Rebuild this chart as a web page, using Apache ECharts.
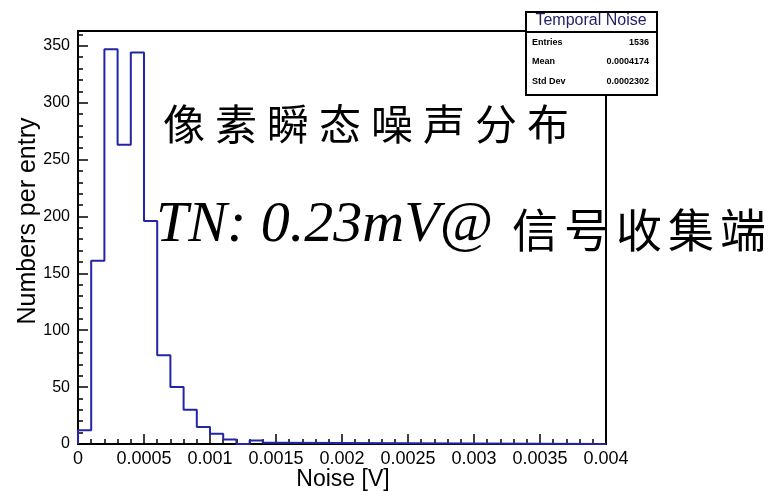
<!DOCTYPE html>
<html lang="en">

<head>
  <meta charset="UTF-8">
  <title>Temporal Noise</title>
  <script src="https://cdn.jsdelivr.net/npm/echarts@6/dist/echarts.min.js"></script>
  <style>
    body { margin: 0; background: #fff; }
  </style>
</head>

<body>
  <div id="noiseHist" style="width:770px;height:491px;"></div>
</body>

</html>
<script type="text/javascript">
  // histogram bins (left edge, V) and counts
  const binLow = [0, 0.0001, 0.0002, 0.0003, 0.0004, 0.0005, 0.0006, 0.0007,
    0.0008, 0.0009, 0.001, 0.0011, 0.0012, 0.0013, 0.0014];
  const counts = [12, 161, 347, 263, 344, 196, 78, 50, 30, 15, 9, 4, 0, 3, 1];
  const histEnd = 0.0015;
  const xMax = 0.004;

  const statsTitle = 'Temporal Noise';
  const statsNames = ['Entries', 'Mean', 'Std Dev'];
  const statsValues = ['1536', '0.0004174', '0.0002302'];

  const titleChars = ['像', '素', '瞬', '态', '噪', '声', '分', '布'];
  const tnText = 'TN: 0.23mV@';
  const tnChars = ['信', '号', '收', '集', '端'];

  // outline of the histogram, drawn as a step line
  let stepData = [[0, 0]];
  for (let i = 0; i < binLow.length; i++) {
    stepData.push([binLow[i], counts[i]]);
  }
  stepData.push([histEnd, 0]);
  stepData.push([xMax, 0]);

  let chart = echarts.init(document.getElementById('noiseHist'));

  let graphics = [];
  // stats box
  graphics.push({
    type: 'rect', z: 100,
    shape: { x: 526, y: 12, width: 131, height: 83 },
    style: { fill: '#fff', stroke: '#000', lineWidth: 2 }
  });
  graphics.push({
    type: 'line', z: 101,
    shape: { x1: 526, y1: 32, x2: 657, y2: 32 },
    style: { stroke: '#000', lineWidth: 2 }
  });
  graphics.push({
    type: 'text', z: 101, x: 591, y: 21,
    style: { text: statsTitle, fill: '#22226a', font: '16px "Liberation Sans"', align: 'center', verticalAlign: 'middle' }
  });
  let rowY = [43, 62, 82];
  for (let i = 0; i < statsNames.length; i++) {
    graphics.push({
      type: 'text', z: 101, x: 532, y: rowY[i],
      style: { text: statsNames[i], fill: '#000', font: 'bold 9px "Liberation Sans"', align: 'left', verticalAlign: 'middle' }
    });
    graphics.push({
      type: 'text', z: 101, x: 649, y: rowY[i],
      style: { text: statsValues[i], fill: '#000', font: 'bold 9px "Liberation Sans"', align: 'right', verticalAlign: 'middle' }
    });
  }
  // overlaid annotation
  for (let i = 0; i < titleChars.length; i++) {
    graphics.push({
      type: 'text', z: 90, x: 184 + i * 52, y: 124,
      style: { text: titleChars[i], fill: '#000', font: '42px "Noto Sans CJK SC"', align: 'center', verticalAlign: 'middle' }
    });
  }
  graphics.push({
    type: 'text', z: 90, x: 156, y: 226,
    style: { text: tnText, fill: '#000', font: 'italic 58px "Liberation Serif"', align: 'left', verticalAlign: 'middle' }
  });
  for (let i = 0; i < tnChars.length; i++) {
    graphics.push({
      type: 'text', z: 90, x: 535 + i * 52, y: 230,
      style: { text: tnChars[i], fill: '#000', font: '46px "Noto Sans CJK SC"', align: 'center', verticalAlign: 'middle' }
    });
  }
  // axis titles
  graphics.push({
    type: 'text', z: 90, x: 28, y: 221, rotation: Math.PI / 2,
    style: { text: 'Numbers per entry', fill: '#000', font: '25px "Liberation Sans"', align: 'center', verticalAlign: 'middle' }
  });
  graphics.push({
    type: 'text', z: 90, x: 343, y: 480,
    style: { text: 'Noise [V]', fill: '#000', font: '23px "Liberation Sans"', align: 'center', verticalAlign: 'middle' }
  });

  let option = {
    animation: false,
    backgroundColor: '#fff',
    grid: {
      left: 78, right: 164, top: 31, bottom: 47,
      show: true, borderColor: '#000', borderWidth: 2
    },
    xAxis: {
      type: 'value',
      min: 0,
      max: xMax,
      interval: 0.0005,
      axisLine: { lineStyle: { color: '#000', width: 2 } },
      axisTick: { inside: true, length: 10, lineStyle: { color: '#000', width: 1.5 } },
      minorTick: { show: true, splitNumber: 5, length: 5, lineStyle: { color: '#000', width: 1.5 } },
      splitLine: { show: false },
      axisLabel: {
        color: '#000', fontSize: 18, fontFamily: 'Liberation Sans', margin: 6,
        formatter: function (v) { return String(parseFloat(v.toFixed(4))); }
      }
    },
    yAxis: {
      type: 'value',
      min: 0,
      max: 363,
      interval: 50,
      axisLine: { lineStyle: { color: '#000', width: 2 } },
      axisTick: { inside: true, length: 10, lineStyle: { color: '#000', width: 1.5 } },
      minorTick: { show: true, splitNumber: 5, length: 5, lineStyle: { color: '#000', width: 1.5 } },
      splitLine: { show: false },
      axisLabel: {
        color: '#000', fontSize: 16, fontFamily: 'Liberation Sans', margin: 8,
        formatter: function (v) { return v % 50 === 0 ? String(v) : ''; }
      }
    },
    series: [{
      type: 'line',
      step: 'end',
      symbol: 'none',
      data: stepData,
      lineStyle: { color: '#2424a8', width: 2 }
    }],
    graphic: graphics
  };
  chart.setOption(option);
</script>
